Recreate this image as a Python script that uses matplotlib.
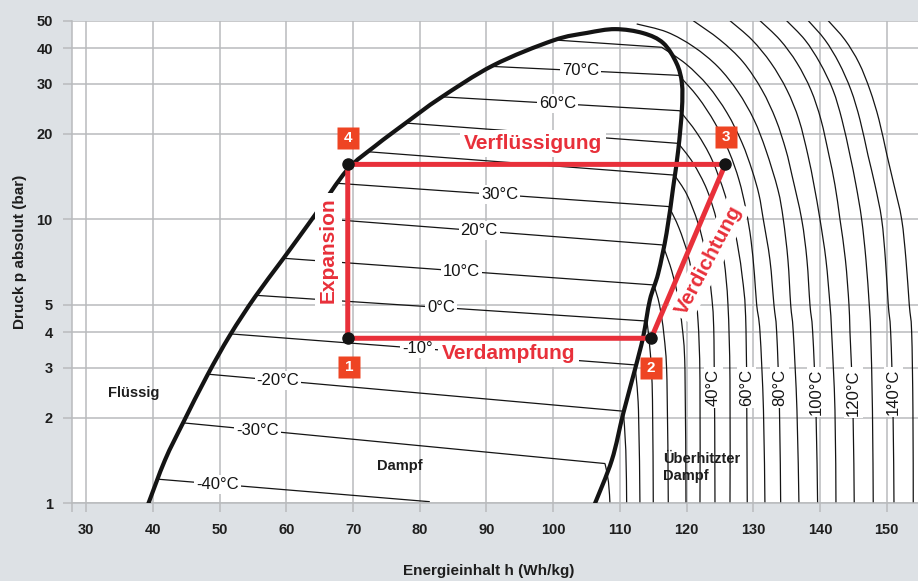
import matplotlib
matplotlib.use("Agg")
import matplotlib.pyplot as plt
from matplotlib.path import Path
from matplotlib.patches import PathPatch
from matplotlib.ticker import FixedLocator, NullLocator, FixedFormatter, NullFormatter
import numpy as np

plt.rcParams['font.family'] = ['Liberation Sans', 'DejaVu Sans']

# ---------------- data ----------------
x_ticks = [30, 40, 50, 60, 70, 80, 90, 100, 110, 120, 130, 140, 150]
y_ticks = [1, 2, 3, 4, 5, 10, 20, 30, 40, 50]
y_tick_labels = ["1", "2", "3", "4", "5", "10", "20", "30", "40", "50"]

# saturation dome (liquid branch bottom->top, vapour branch top->bottom)
liq_h = [39.25, 41.8, 44.5, 48.1, 51.55, 55.3, 59.5, 64.3, 69.1, 73.3, 78.1, 83.05, 91.0, 100.0, 105.1, 109.3]
liq_p = [0.99, 1.42, 1.918, 2.81, 3.91, 5.33, 7.25, 10.36, 14.9, 18.1, 22.0, 26.7, 34.8, 42.6, 45.3, 46.7]
vap_h = [113.5, 116.5, 118.5, 119.3, 119.3, 118.75, 118.0, 117.0, 115.75, 114.5, 113.5, 112.25, 110.5, 108.8, 106.2]
vap_p = [45.2, 41.7, 35.4, 30.1, 24.3, 17.5, 13.0, 8.93, 6.45, 5.20, 3.86, 2.95, 2.07, 1.42, 0.99]

# isotherms inside the dome
wet_T = [-40, -30, -20, -10, 0, 10, 20, 30, 40, 50, 60, 70, 80]
wet_hL = [40.9, 44.45, 48.1, 51.5, 55.3, 59.5, 64.0, 67.3, 72.0, 78.0, 83.0, 91.0, 100.0]
wet_pL = [1.215, 1.92, 2.85, 3.95, 5.40, 7.29, 10.1, 13.4, 17.3, 21.8, 27.0, 34.5, 42.8]
wet_hV = [81.5, 107.8, 110.5, 112.3, 114.1, 115.1, 116.4, 117.4, 118.2, 118.75, 119.0, 118.9, 116.3]
wet_pV = [1.013, 1.38, 2.11, 3.07, 4.38, 5.87, 8.12, 11.08, 14.3, 18.5, 24.1, 32.1, 40.3]
wet_label_T = [-40, -30, -20, -10, 0, 10, 20, 30, 60, 70]
wet_label_text = ["-40°C", "-30°C", "-20°C", "-10°", "0°C", "10°C", "20°C", "30°C", "60°C", "70°C"]
wet_label_h = [49.7, 55.7, 58.75, 79.7, 83.2, 86.3, 88.9, 92.0, 100.7, 104.1]

# isotherms in the superheated region
sh_T = [-30, -20, -10, 0, 10, 20, 30, 40, 50, 60, 70, 80, 90, 100, 110, 120, 130, 140, 150]
p_hi = [50.0, 42.8, 35.5, 28.5, 22.4, 16.8, 13.2, 10.0, 7.19, 5.0, 4.0, 2.13, 0.99]
sh_h = [
    [107.77, 108.29, 108.52],
    [110.51, 110.89, 111.02],
    [112.26, 112.79, 113.01],
    [114.06, 114.59, 114.89, 115.01],
    [115.11, 115.94, 116.61, 117.06, 117.26],
    [116.39, 117.51, 118.56, 119.31, 119.76, 119.91],
    [117.36, 118.86, 120.21, 121.11, 121.71, 122.01, 122.01],
    [118.19, 120.06, 121.71, 122.91, 123.66, 124.11, 124.26],
    [118.76, 120.96, 123.06, 124.56, 125.61, 126.21, 126.51, 126.51],
    [119.01, 121.56, 123.81, 125.76, 127.26, 128.31, 128.91, 129.1],
    [118.86, 121.71, 124.26, 126.36, 127.86, 128.91, 129.66, 130.18, 130.51, 131.01, 131.53, 131.75],
    [116.27, 119.91, 123.21, 126.06, 128.31, 129.81, 130.86, 131.5, 132.5, 133.1, 133.51, 133.93, 134.11],
    [112.52, 117.06, 121.11, 124.71, 127.71, 130.11, 131.9, 133.7, 134.5, 135.2, 135.61, 136.0, 136.55, 136.85],
    [121.0, 125.01, 128.46, 131.31, 133.4, 134.9, 135.8, 137.26, 138.05, 138.5, 138.91, 139.4, 139.65],
    [126.51, 129.81, 132.65, 135.05, 136.85, 138.2, 139.1, 140.0, 140.9, 141.5, 141.75, 142.25, 142.4],
    [131.01, 134.0, 136.55, 138.65, 140.15, 141.35, 142.25, 143.0, 143.82, 144.35, 144.5, 144.95, 145.14],
    [135.0, 137.75, 140.0, 141.95, 143.3, 144.5, 145.4, 146.25, 146.9, 147.39, 147.6, 147.87, 147.99],
    [138.25, 140.75, 142.85, 144.65, 146.0, 147.2, 148.25, 149.25, 149.82, 150.24, 150.6, 150.95, 151.1],
    [141.24, 143.75, 145.85, 147.5, 148.85, 150.05, 151.1, 152.25, 152.9, 153.39, 153.75, 153.94, 153.99],
]
sh_p = [
    [1.38, 1.19, 0.99],
    [2.11, 1.54, 0.99],
    [3.07, 2.13, 0.99],
    [4.38, 3.33, 2.31, 0.99],
    [5.87, 4.99, 3.91, 2.72, 0.99],
    [8.12, 6.90, 5.55, 4.24, 2.95, 0.99],
    [11.08, 9.32, 7.49, 5.87, 4.42, 2.72, 0.99],
    [14.3, 12.2, 9.70, 7.49, 5.64, 3.76, 0.99],
    [18.5, 15.8, 12.7, 9.78, 7.19, 4.99, 2.72, 0.99],
    [24.06, 20.1, 16.2, 12.2, 9.02, 6.37, 4.08, 0.99],
    [32.1, 26.9, 21.8, 17.3, 13.75, 10.8, 8.46, 6.37, 5.0, 4.0, 2.13, 0.99],
    [40.3, 35.2, 29.5, 23.7, 18.6, 14.9, 12.2, 10.0, 7.19, 5.0, 4.0, 2.13, 0.99],
    [48.7, 45.6, 40.4, 34.4, 28.1, 22.4, 17.5, 12.7, 10.0, 7.19, 5.0, 4.0, 2.13, 0.99],
    [50.0, 42.8, 35.8, 28.5, 22.4, 17.5, 14.3, 10.0, 7.19, 5.0, 4.0, 2.13, 0.99],
    p_hi, p_hi, p_hi, p_hi, p_hi,
]
sh_label_T = [40, 60, 80, 100, 120, 140]
sh_label_h = [124.0, 129.0, 134.0, 139.5, 145.0, 151.0]

# refrigeration cycle (points 1..4)
cycle_h = [69.2, 114.7, 125.8, 69.2]
cycle_p = [3.81, 3.81, 15.6, 15.6]
cycle_num = ["1", "2", "3", "4"]
num_box_h = [69.4, 114.65, 125.9, 69.3]
num_box_p = [3.01, 3.0, 19.5, 19.3]

# ---------------- style ----------------
BG = "#dde1e5"
GRID = "#b9bbbd"
INK = "#141414"
RED = "#e8303a"
ORANGE = "#ee4423"
XMIN, XMAX = 27.9, 154.7


def smooth_path(h, p):
    """Catmull-Rom -> cubic Bezier through the given points in (h, log p)."""
    P = np.column_stack([np.asarray(h, float), np.log10(np.asarray(p, float))])
    n = len(P)
    verts = [P[0]]
    codes = [Path.MOVETO]
    for i in range(n - 1):
        p0 = P[i - 1] if i > 0 else P[i]
        p1 = P[i]
        p2 = P[i + 1]
        p3 = P[i + 2] if i + 2 < n else P[i + 1]
        c1 = p1 + (p2 - p0) / 6.0
        c2 = p2 - (p3 - p1) / 6.0
        verts += [c1, c2, p2]
        codes += [Path.CURVE4] * 3
    V = np.array(verts)
    V[:, 1] = 10 ** V[:, 1]
    return Path(V, codes)


fig = plt.figure(figsize=(9.18, 5.81), dpi=100, facecolor=BG)
ax = fig.add_axes([72.3 / 918, (581 - 503.3) / 581, (918 - 72.3) / 918, (503.3 - 20.7) / 581])
ax.set_facecolor("white")
ax.set_yscale("log")
ax.set_xlim(XMIN, XMAX)
ax.set_ylim(1, 50)

ax.xaxis.set_major_locator(FixedLocator(x_ticks))
ax.xaxis.set_minor_locator(FixedLocator([XMIN]))
ax.xaxis.set_minor_formatter(NullFormatter())
ax.yaxis.set_major_locator(FixedLocator(y_ticks))
ax.yaxis.set_major_formatter(FixedFormatter(y_tick_labels))
ax.yaxis.set_minor_locator(NullLocator())
ax.grid(True, which="major", color=GRID, lw=1.1, zorder=0)
ax.set_axisbelow(True)
ax.tick_params(which="both", length=6.5, width=1.1, color=GRID, pad=7.5, labelsize=10.5,
               labelcolor="#1e1e1e")
for lab in ax.get_xticklabels() + ax.get_yticklabels():
    lab.set_fontweight("bold")
for side in ["top", "right"]:
    ax.spines[side].set_visible(False)
for side in ["left", "bottom"]:
    ax.spines[side].set_color(GRID)
    ax.spines[side].set_linewidth(1.1)

ax.set_xlabel("Energieinhalt h (Wh/kg)", fontsize=11, fontweight="bold", color="#1e1e1e")
ax.set_ylabel("Druck p absolut (bar)", fontsize=11, fontweight="bold", color="#1e1e1e")
ax.xaxis.set_label_coords(0.4927, -0.125)
ax.yaxis.set_label_coords(-0.053, 0.52)

# wet isotherms
for T, hL, pL, hV, pV in zip(wet_T, wet_hL, wet_pL, wet_hV, wet_pV):
    ax.plot([hL, hV], [pL, pV], color=INK, lw=0.9, zorder=2, solid_capstyle="butt")

wet_lookup = {T: (hL, pL, hV, pV) for T, hL, pL, hV, pV in zip(wet_T, wet_hL, wet_pL, wet_hV, wet_pV)}
for T, txt, hl in zip(wet_label_T, wet_label_text, wet_label_h):
    hL, pL, hV, pV = wet_lookup[T]
    f = (hl - hL) / (hV - hL)
    pl = 10 ** (np.log10(pL) + f * (np.log10(pV) - np.log10(pL)))
    ax.text(hl, pl, txt, ha="center", va="center", fontsize=12, color=INK, zorder=4,
            bbox=dict(boxstyle="square,pad=0.12", fc="white", ec="none"))

# superheated isotherms
for hs, ps in zip(sh_h, sh_p):
    ax.add_patch(PathPatch(smooth_path(hs, ps), fill=False, ec=INK, lw=0.9, zorder=2))

for T, hl in zip(sh_label_T, sh_label_h):
    ax.text(hl, 2.97, f"{T}°C", rotation=90, ha="center", va="top", fontsize=12, color=INK,
            zorder=4, bbox=dict(boxstyle="square,pad=0.12", fc="white", ec="none"))

# saturation dome
dome_h = liq_h + vap_h
dome_p = liq_p + vap_p
ax.add_patch(PathPatch(smooth_path(dome_h, dome_p), fill=False, ec=INK, lw=3.0, zorder=3,
                       capstyle="butt"))

# region labels
ax.text(33.2, 2.45, "Flüssig", fontsize=10.5, fontweight="bold", color="#1e1e1e", va="center", zorder=4)
ax.text(73.6, 1.35, "Dampf", fontsize=10.5, fontweight="bold", color="#1e1e1e", va="center", zorder=4)
ax.text(116.5, 1.34, "Überhitzter\nDampf", fontsize=10.5, fontweight="bold", color="#1e1e1e",
        va="center", ha="left", linespacing=1.25, zorder=4)

# process labels
red_box = dict(boxstyle="square,pad=0.2", fc="white", ec="none")
ax.text(97.0, 18.5, "Verflüssigung", fontsize=15, fontweight="bold", color=RED, ha="center",
        va="center", bbox=red_box, zorder=5)
ax.text(93.3, 3.36, "Verdampfung", fontsize=15, fontweight="bold", color=RED, ha="center",
        va="center", bbox=red_box, zorder=5)
ax.text(66.3, 7.8, "Expansion", fontsize=15, fontweight="bold", color=RED, ha="center",
        va="center", rotation=90, bbox=red_box, zorder=5)
ax.text(123.35, 7.19, "Verdichtung", fontsize=15, fontweight="bold", color=RED, ha="center",
        va="center", rotation=62, rotation_mode="anchor", bbox=red_box, zorder=5)

# cycle
ax.plot(cycle_h + [cycle_h[0]], cycle_p + [cycle_p[0]], color=RED, lw=3.6, zorder=6,
        solid_joinstyle="miter")
ax.plot(cycle_h, cycle_p, "o", color=INK, ms=8, zorder=7)
ax.plot(num_box_h, num_box_p, "s", color=ORANGE, ms=15.5, mec="none", zorder=8)
for hb, pb, n in zip(num_box_h, num_box_p, cycle_num):
    ax.text(hb, pb, n, color="white", fontsize=11, fontweight="bold", ha="center", va="center",
            zorder=9)

fig.savefig("out.png", dpi=100, facecolor=BG)
